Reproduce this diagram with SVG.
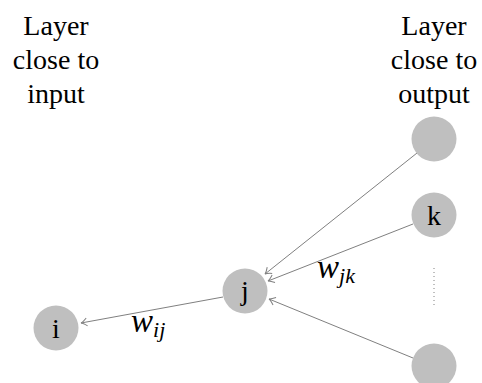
<svg xmlns="http://www.w3.org/2000/svg" width="482" height="383" viewBox="0 0 482 383">
<defs>
<style>
.node circle{fill:#bfbfbf;stroke:none}
.lbl{font-family:"Liberation Serif","DejaVu Serif",serif;font-size:28px;fill:#000;text-anchor:middle}
.nl{font-family:"Liberation Serif","DejaVu Serif",serif;font-size:28px;fill:#000;text-anchor:middle}
.w{font-family:"Liberation Serif","DejaVu Serif",serif;font-style:italic;fill:#000}
.edge{stroke:#808080;stroke-width:1;fill:none;marker-end:url(#arr)}
</style>
<marker id="arr" viewBox="-8 -5 10 10" markerWidth="10" markerHeight="10" refX="0" refY="0" orient="auto" markerUnits="userSpaceOnUse">
<path d="M-6,-4 Q-2,-0.5 0,0 Q-2,0.5 -6,4" fill="none" stroke="#808080" stroke-width="1"/>
</marker>
</defs>
<g id="title-left">
<text class="lbl" x="56" y="35">Layer</text>
<text class="lbl" x="56" y="69">close to</text>
<text class="lbl" x="56" y="103">input</text>
</g>
<g id="title-right">
<text class="lbl" x="434" y="35">Layer</text>
<text class="lbl" x="434" y="69">close to</text>
<text class="lbl" x="434" y="103">output</text>
</g>
<g id="connectors">
<line class="edge" x1="417" y1="153" x2="265" y2="274"/>
<line class="edge" x1="413" y1="224" x2="268" y2="281"/>
<line class="edge" x1="413" y1="358" x2="269" y2="299"/>
<line class="edge" x1="223" y1="297" x2="81" y2="323"/>
<line x1="434" y1="268" x2="434" y2="308" stroke="#808080" stroke-width="1" stroke-dasharray="1 3"/>
</g>
<g id="node-i" class="node"><circle cx="56" cy="328" r="22.5"/><text class="nl" x="56" y="338">i</text></g>
<g id="node-j" class="node"><circle cx="245" cy="291" r="22.5"/><text class="nl" x="245" y="300">j</text></g>
<g id="node-top" class="node"><circle cx="434" cy="139" r="22.5"/></g>
<g id="node-k" class="node"><circle cx="434" cy="215" r="22.5"/><text class="nl" x="434" y="225">k</text></g>
<g id="node-bottom" class="node"><circle cx="434" cy="366" r="22.5"/></g>
<g id="label-wjk"><text class="w" x="317" y="278" font-size="33">w<tspan font-size="22" dy="5">jk</tspan></text></g>
<g id="label-wij"><text class="w" x="131" y="332" font-size="33">w<tspan font-size="22" dy="5">ij</tspan></text></g>
</svg>
